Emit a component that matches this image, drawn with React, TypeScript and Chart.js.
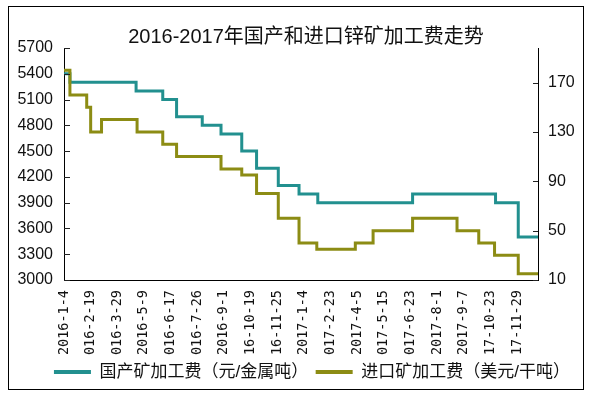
import { useEffect, useRef } from "react";
import { Chart, registerables } from "chart.js";

Chart.register(...registerables);

// ---- data ----
const tickIndex = [0, 27, 54, 81, 108, 135, 162, 189, 216, 243, 270, 297, 324, 351, 378, 405, 432, 459];
const tickLabels = [
  "2016-1-4", "016-2-19", "016-3-29", "2016-5-9", "016-6-17", "016-7-26",
  "2016-9-1", "16-10-19", "16-11-25", "2017-1-4", "017-2-23", "2017-4-5",
  "017-5-15", "017-6-23", "2017-8-1", "2017-9-7", "17-10-23", "17-11-29",
];
const lastIndex = 480;

// trading-day index where each level starts, and the level
const domesticStart = [0, 6, 73, 100, 114, 140, 159, 180, 195, 217, 238, 257, 353, 437, 460];
const domesticFee = [5400, 5300, 5200, 5100, 4900, 4800, 4700, 4500, 4300, 4100, 4000, 3900, 4000, 3900, 3500];

const importStart = [0, 6, 23, 27, 38, 74, 100, 114, 159, 180, 195, 217, 238, 256, 295, 313, 353, 398, 420, 436, 460];
const importFee = [180, 160, 150, 130, 140, 130, 120, 110, 100, 95, 80, 60, 40, 35, 40, 50, 60, 50, 40, 30, 15];

const leftTicks = [3000, 3300, 3600, 3900, 4200, 4500, 4800, 5100, 5400, 5700];
const rightTicks = [10, 50, 90, 130, 170];

const titleText = "2016-2017年国产和进口锌矿加工费走势";
const domesticName = "国产矿加工费（元/金属吨）";
const importName = "进口矿加工费（美元/干吨）";

const TEAL = "#22908f";
const OLIVE = "#8c8c14";
const FONT = "'Liberation Sans', 'Noto Sans CJK SC', sans-serif";

function toPoints(starts: number[], vals: number[]) {
  const pts = starts.map((x, i) => ({ x, y: vals[i] }));
  pts.push({ x: lastIndex, y: vals[vals.length - 1] });
  return pts;
}

const framePlugin = {
  id: "frame",
  afterLayout(chart: any) {
    if (chart.legend) {
      chart.legend.left += 13;
      chart.legend.right += 13;
    }
  },
  afterDraw(chart: any) {
    const ctx = chart.ctx;
    ctx.save();
    ctx.strokeStyle = "#000";
    ctx.lineWidth = 1;
    ctx.strokeRect(8.5, 6.5, 575, 383);
    const yl = chart.scales.y;
    const yr = chart.scales.y1;
    ctx.strokeStyle = "#222";
    ctx.beginPath();
    yl.ticks.forEach((t: any) => {
      const py = Math.round(yl.getPixelForValue(t.value)) + 0.5;
      ctx.moveTo(yl.right, py);
      ctx.lineTo(yl.right + 6, py);
    });
    yr.ticks.forEach((t: any) => {
      const py = Math.round(yr.getPixelForValue(t.value)) + 0.5;
      ctx.moveTo(yr.left - 5, py);
      ctx.lineTo(yr.left, py);
    });
    ctx.stroke();
    ctx.restore();
  },
};

export default function App() {
  const ref = useRef<HTMLCanvasElement | null>(null);
  useEffect(() => {
    if (!ref.current) return;
    const chart = new Chart(ref.current, {
      type: "line",
      data: {
        datasets: [
          {
            label: domesticName,
            data: toPoints(domesticStart, domesticFee),
            borderColor: TEAL,
            backgroundColor: TEAL,
            borderWidth: 3,
            pointRadius: 0,
            stepped: "before",
            yAxisID: "y",
            order: 1,
            borderJoinStyle: "miter",
          },
          {
            label: importName,
            data: toPoints(importStart, importFee),
            borderColor: OLIVE,
            backgroundColor: OLIVE,
            borderWidth: 3,
            pointRadius: 0,
            stepped: "before",
            yAxisID: "y1",
            order: 0,
            borderJoinStyle: "miter",
          },
        ],
      },
      options: {
        animation: false,
        responsive: true,
        maintainAspectRatio: false,
        parsing: false as any,
        layout: { padding: { top: 27, left: 14, right: -6, bottom: 6.5 } },
        plugins: {
          tooltip: { enabled: false },
          title: {
            display: true,
            text: titleText,
            color: "#111",
            font: { family: FONT, size: 20, weight: "normal", lineHeight: 1.0 },
            padding: { top: 0, bottom: 1 },
          },
          legend: {
            position: "bottom",
            labels: {
              color: "#111",
              font: { family: FONT, size: 17 },
              boxWidth: 37,
              boxHeight: 4,
              padding: 7.5,
              sort: (a: any, b: any) => a.datasetIndex - b.datasetIndex,
              generateLabels: (c: any) =>
                Chart.defaults.plugins.legend.labels
                  .generateLabels(c)
                  .map((it: any, i: number) => ({
                    ...it,
                    lineWidth: 0,
                    text: i === 0 ? it.text + "   " : it.text,
                  })),
            },
          },
        },
        scales: {
          x: {
            type: "linear",
            min: 0,
            max: lastIndex,
            afterBuildTicks: (s: any) => {
              s.ticks = tickIndex.map((v) => ({ value: v }));
            },
            afterFit: (s: any) => {
              s.height = 76;
            },
            ticks: {
              autoSkip: false,
              minRotation: 90,
              maxRotation: 90,
              padding: 10,
              color: "#111",
              font: { family: "'DejaVu Sans Mono', monospace", size: 13.5 },
              callback: (v: any) => {
                const i = tickIndex.indexOf(Number(v));
                return i >= 0 ? tickLabels[i] : "";
              },
            },
            grid: { display: false, drawTicks: false },
            border: { display: true, color: "#000", width: 1 },
          },
          y: {
            position: "left",
            min: 3000,
            max: 5700,
            afterBuildTicks: (s: any) => {
              s.ticks = leftTicks.map((v) => ({ value: v }));
            },
            afterFit: (s: any) => {
              s.width = 50;
            },
            ticks: {
              padding: 11,
              color: "#111",
              font: { family: FONT, size: 16 },
              callback: (v: any) => String(v),
            },
            grid: { display: false, drawTicks: false },
            border: { display: true, color: "#000", width: 1 },
          },
          y1: {
            position: "right",
            min: 10,
            max: 198,
            afterBuildTicks: (s: any) => {
              s.ticks = rightTicks.map((v) => ({ value: v }));
            },
            afterFit: (s: any) => {
              s.width = 60;
            },
            ticks: {
              padding: 10,
              color: "#111",
              font: { family: FONT, size: 16 },
              callback: (v: any) => String(v),
            },
            grid: { display: false, drawTicks: false },
            border: { display: true, color: "#000", width: 1 },
          },
        },
      } as any,
      plugins: [framePlugin],
    });
    return () => chart.destroy();
  }, []);

  return (
    <div style={{ position: "fixed", left: 0, top: 0, width: 592, height: 397, background: "#fff" }}>
      <canvas ref={ref} />
    </div>
  );
}
